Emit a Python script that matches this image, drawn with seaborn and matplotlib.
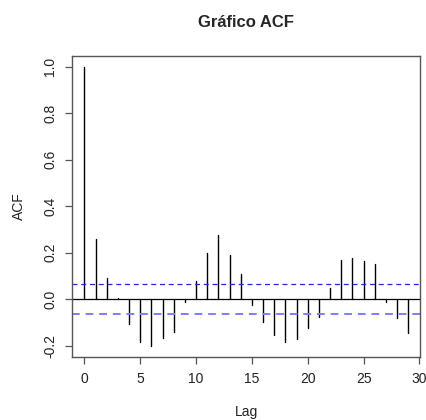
import numpy as np
import pandas as pd
import matplotlib
matplotlib.use("Agg")
import matplotlib.pyplot as plt
import seaborn as sns

lags = list(range(30))
acf_values = [1.0, 0.257, 0.091, 0.004, -0.107, -0.183, -0.200, -0.166, -0.143, -0.011,
              0.077, 0.200, 0.274, 0.189, 0.107, -0.024, -0.100, -0.154, -0.184, -0.171,
              -0.123, -0.079, 0.049, 0.169, 0.176, 0.163, 0.151, -0.013, -0.083, -0.147]
conf_upper = 0.064
conf_lower = -0.066
x_ticks = [0, 5, 10, 15, 20, 25, 30]
y_ticks = [-0.2, 0.0, 0.2, 0.4, 0.6, 0.8, 1.0]
y_tick_labels = ["-0.2", "0.0", "0.2", "0.4", "0.6", "0.8", "1.0"]

sns.set_theme(style="white")
plt.rcParams['font.family'] = ['Liberation Sans', 'DejaVu Sans']

rows = []
for l, v in zip(lags, acf_values):
    rows.append({"lag": l, "acf": 0.0, "unit": l})
    rows.append({"lag": l, "acf": v, "unit": l})
df = pd.DataFrame(rows)

fig = plt.figure(figsize=(4.27, 4.20), dpi=100)
ax = fig.add_axes([0.1693, 0.1507, 0.9836 - 0.1693, 0.8674 - 0.1507])

sns.lineplot(data=df, x="lag", y="acf", units="unit", estimator=None,
             color="black", linewidth=1.0, ax=ax, legend=False)
ax.axhline(0, color="black", linewidth=0.9)
ax.axhline(conf_upper, color="#2626d9", linewidth=0.9, linestyle=(0, (4, 3)))
ax.axhline(conf_lower, color="#7d7dff", linewidth=1.4, linestyle=(0, (4, 3)))

ax.set_xlim(-1.08, 30.05)
ax.set_ylim(-0.248, 1.048)
ax.set_xticks(x_ticks)
ax.set_yticks(y_ticks)
ax.set_yticklabels(y_tick_labels, rotation=90, va="center")
ax.tick_params(axis="both", which="both", direction="out", length=5, width=0.9,
               color="#555555", labelsize=10, labelcolor="#222222", pad=6,
               bottom=True, left=True)
for s in ax.spines.values():
    s.set_color("#555555")
    s.set_linewidth(1.0)

ax.set_xlabel("Lag", fontsize=10, color="#222222", labelpad=14)
ax.set_ylabel("ACF", fontsize=10, color="#222222", labelpad=12)
ax.set_title("Gráfico ACF", fontsize=12, fontweight="bold", pad=21)

fig.savefig("out.png", dpi=100)
